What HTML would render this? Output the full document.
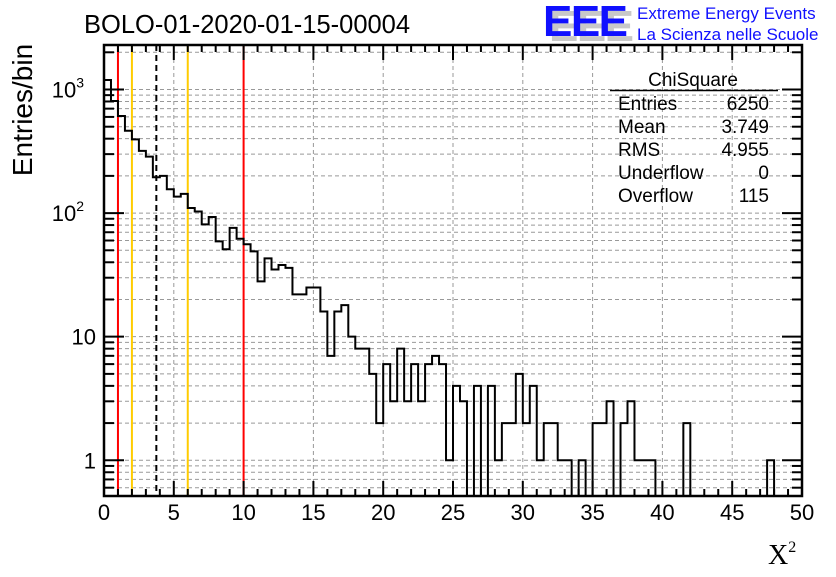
<!DOCTYPE html>
<html><head><meta charset="utf-8"><style>
body{margin:0;background:#fff;}
svg text{font-family:"Liberation Sans",sans-serif;}
</style></head><body>
<svg id="chart" width="836" height="572" xmlns="http://www.w3.org/2000/svg">
<rect width="836" height="572" fill="#fff"/>
<g id="grid"></g>
<g id="vlines"></g>
<g id="hist"></g>
<g id="axes"></g>
<text x="84" y="33" font-size="25.5">BOLO-01-2020-01-15-00004</text>
<text transform="translate(32,110) rotate(-90)" font-size="28" text-anchor="middle">Entries/bin</text>
<text x="768" y="564" font-size="28" style="font-family:'Liberation Serif',serif">X<tspan font-size="16" dy="-12">2</tspan></text>
<g>
<text x="549" y="41" font-size="44" font-weight="bold" fill="#c8c8c8" textLength="85">EEE</text>
<text x="543" y="36" font-size="44" font-weight="bold" fill="#1010ff" textLength="85">EEE</text>
<text x="637" y="19" font-size="17" fill="#1010ff">Extreme Energy Events</text>
<text x="637" y="40" font-size="17" fill="#1010ff">La Scienza nelle Scuole</text>
</g>
<g font-size="19">
<text x="693" y="86" text-anchor="middle">ChiSquare</text>
<line x1="610" y1="90.5" x2="778" y2="90.5" stroke="#000" stroke-width="1.5"/>
<text x="618" y="110">Entries</text><text x="769" y="110" text-anchor="end">6250</text>
<text x="618" y="133">Mean</text><text x="769" y="133" text-anchor="end">3.749</text>
<text x="618" y="156">RMS</text><text x="769" y="156" text-anchor="end">4.955</text>
<text x="618" y="179">Underflow</text><text x="769" y="179" text-anchor="end">0</text>
<text x="618" y="202">Overflow</text><text x="769" y="202" text-anchor="end">115</text>
</g>
</svg>
<script>
const binWidth = 0.5;
const counts = [1194,807,610,464,395,319,286,195,200,156,136,143,110,103,81,93,59,51,76,62,56,49,28,43,35,38,36,22,22,25,25,16,7,16,18,10,8,8,5,2,6,3,8,3,6,3,6,7,6,1,4,3,0,4,0,4,1,2,2,5,2,4,1,2,2,1,1,0,1,0,2,2,3,0,2,3,1,1,1,0,0,0,0,2,0,0,0,0,0,0,0,0,0,0,0,1,0,0,0,0];
const xTicks = [0,5,10,15,20,25,30,35,40,45,50];
const yDecades = [0,1,2,3];
const yDecadeLabels = ["1","10","10","10"];
const yDecadeExp = ["","","2","3"];
const refLines = [1,2,6,10];
const refColors = ["#ff0000","#ffcc00","#ffcc00","#ff0000"];
const meanLine = 3.749;

const L=104,R=802,T=45,B=496;
const xMin=0,xMax=50,logMin=-0.289,logMax=3.36;
const NS="http://www.w3.org/2000/svg";
function X(v){return L+(v-xMin)/(xMax-xMin)*(R-L);}
function Y(v){const lv=v>0?Math.log10(v):logMin;return B-(Math.max(lv,logMin)-logMin)/(logMax-logMin)*(B-T);}
function mk(tag,attrs,parent){const e=document.createElementNS(NS,tag);for(const k in attrs)e.setAttribute(k,attrs[k]);parent.appendChild(e);return e;}
const grid=document.getElementById('grid'),axes=document.getElementById('axes'),hist=document.getElementById('hist'),vl=document.getElementById('vlines');
const gs={stroke:"#999","stroke-width":1,"stroke-dasharray":"4,3"};
xTicks.forEach(t=>{if(t>xMin&&t<xMax){const l=mk('line',Object.assign({x1:X(t),x2:X(t),y1:T,y2:B},gs),grid);

}});
for(let d=-1;d<=3;d++){for(let m=1;m<=9;m++){const v=m*Math.pow(10,d);const lv=Math.log10(v);if(lv<logMin||lv>logMax)continue;const y=Y(v);
const g=mk('line',Object.assign({x1:L,x2:R,y1:y,y2:y},gs),grid);


const len=m===1?20:10;
mk('line',{x1:L,x2:L+len,y1:y,y2:y,stroke:"#000","stroke-width":2},axes);
mk('line',{x1:R,x2:R-len,y1:y,y2:y,stroke:"#000","stroke-width":2},axes);}}
yDecades.forEach((d,i)=>{const y=Y(Math.pow(10,d));const t=mk('text',{x:96,y:y+8,"font-size":22,"text-anchor":"end"},axes);


if(yDecadeExp[i]){t.setAttribute('x',84);t.textContent=yDecadeLabels[i];const s=mk('tspan',{"font-size":14,dy:-10},t);s.textContent=yDecadeExp[i];}else t.textContent=yDecadeLabels[i];});
for(let v=xMin;v<=xMax;v++){const x=X(v);const len=v%5===0?15:7;
mk('line',{x1:x,x2:x,y1:B,y2:B-len,stroke:"#000","stroke-width":2},axes);
mk('line',{x1:x,x2:x,y1:T,y2:T+len,stroke:"#000","stroke-width":2},axes);}
xTicks.forEach(t=>{const e=mk('text',{x:X(t),y:520,"font-size":22,"text-anchor":"middle"},axes);


e.textContent=t;});
refLines.forEach((v,i)=>{const l=mk('line',{x1:X(v),x2:X(v),y1:T,y2:B,stroke:refColors[i],"stroke-width":2},vl);

});
const ml=mk('line',{x1:X(meanLine),x2:X(meanLine),y1:T,y2:B,stroke:"#000","stroke-width":2,"stroke-dasharray":"6,4"},vl);


let d="M"+X(0)+","+B;
counts.forEach((c,i)=>{const y=c>0?Y(c):B;d+=" L"+X(i*binWidth)+","+y+" L"+X((i+1)*binWidth)+","+y;});
d+=" L"+X(counts.length*binWidth)+","+B;
const p=mk('path',{d:d,fill:"none",stroke:"#000","stroke-width":2},hist);


const fr=mk('rect',{x:L,y:T,width:R-L,height:B-T,fill:"none",stroke:"#000","stroke-width":2.5},axes);


</script>
</body></html>
